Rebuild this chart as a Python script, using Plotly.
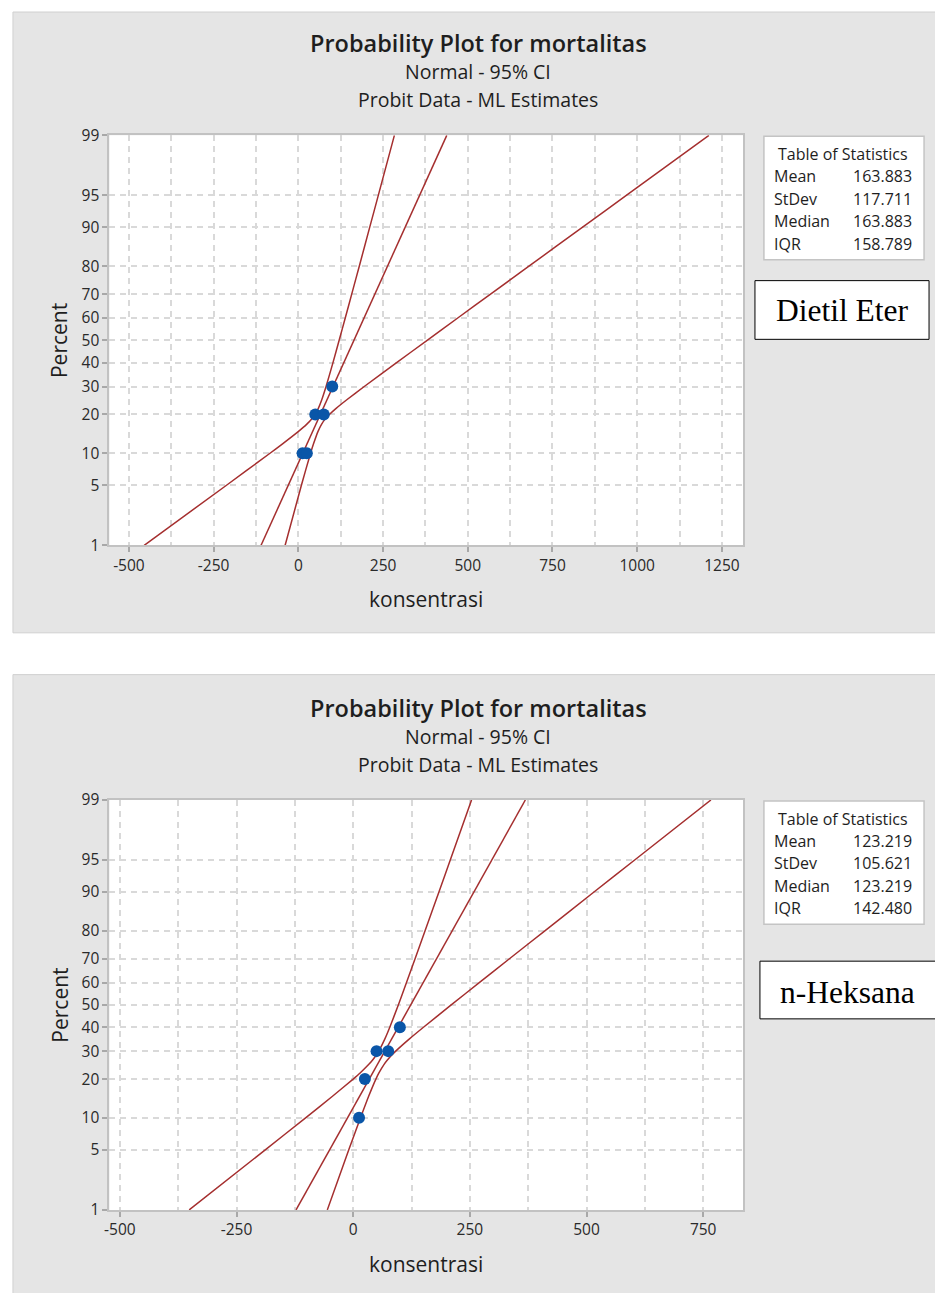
import plotly.graph_objects as go
from statistics import NormalDist

# ---------------- data ----------------
pct_ticks = [1, 5, 10, 20, 30, 40, 50, 60, 70, 80, 90, 95, 99]

# Dietil Eter panel
de_conc = [12.5, 25, 50, 75, 100]
de_mort = [10, 10, 20, 20, 30]
de_fit_pct = [1, 99]
de_fit_x = [-110, 438]
de_ci_pct = [1, 5, 10, 12, 15, 17, 18.7, 20, 22, 25, 30, 40, 50, 60, 70, 80, 90, 95, 99]
de_ci_left = [-455, -212, -83.6, -46.6, -0.4, 24.3, 40, 49.2, 59, 69.1, 81.8, 102.2, 120.4,
              138.4, 157.5, 179.8, 210.5, 235.9, 283.4]
de_ci_right = [-39, 9, 36, 44.8, 57.8, 68.4, 80, 91.6, 111.5, 143, 194.5, 290, 380.1,
               470.4, 567.2, 680.5, 837.9, 967.8, 1211.6]
de_xticks = [-500, -250, 0, 250, 500, 750, 1000, 1250]
de_stats_labels = ["Mean", "StDev", "Median", "IQR"]
de_stats_values = ["163.883", "117.711", "163.883", "158.789"]

# n-Heksana panel
nh_conc = [12.5, 25, 50, 75, 100]
nh_mort = [10, 20, 30, 30, 40]
nh_fit_pct = [1, 99]
nh_fit_x = [-122.5, 368.9]
nh_ci_pct = [1, 5, 10, 15, 20, 22, 25, 26.5, 28, 30, 35, 40, 50, 60, 70, 80, 90, 95, 99]
nh_ci_left = [-351.5, -188.5, -102.0, -44.4, -0.1, 14.8, 33.5, 41.2, 47.6, 54.7, 67.9, 78.4,
              96.7, 114.2, 132.6, 154.0, 183.7, 208.0, 253.6]
nh_ci_right = [-55.5, -9.5, 15.6, 33.1, 48.6, 55.1, 66.2, 72.8, 80.2, 91.1, 120.5, 150.6,
               210.0, 270.1, 334.8, 410.7, 516.0, 603.2, 766.6]
nh_xticks = [-500, -250, 0, 250, 500, 750]
nh_stats_labels = ["Mean", "StDev", "Median", "IQR"]
nh_stats_values = ["123.219", "105.621", "123.219", "142.480"]

de_xrange = [-557.5, 1312.3]
nh_xrange = [-522.4, 835.4]

# ---------------- helpers ----------------
nd = NormalDist()


def zq(p):
    return nd.inv_cdf(p / 100.0)


W, H = 935, 1293
# measured: picture_y ~= 0.988 * figure_y + 8, picture_x ~= figure_x
SY, OY = 0.988, 8.0


def px(x):
    return x / W


def py(y):
    return 1 - ((y - OY) / SY) / H


FONT = "Open Sans"
LINE_RED = "#a52f2f"
DOT_BLUE = "#0a56a8"
GRID = "#d9d9d9"
PANEL = "#e5e5e5"
TXT = "#1e1e1e"

fig = go.Figure()

panels = [
    dict(off=0, xa="x", ya="y", conc=de_conc, mort=de_mort, fit_pct=de_fit_pct, fit_x=de_fit_x,
         ci_pct=de_ci_pct, ci_l=de_ci_left, ci_r=de_ci_right, labels=de_stats_labels,
         values=de_stats_values, xrange=de_xrange, name="Dietil Eter",
         box=(754, 278, 929, 337), text_xy=(842, 308)),
    dict(off=668, xa="x2", ya="y2", conc=nh_conc, mort=nh_mort, fit_pct=nh_fit_pct, fit_x=nh_fit_x,
         ci_pct=nh_ci_pct, ci_l=nh_ci_left, ci_r=nh_ci_right, labels=nh_stats_labels,
         values=nh_stats_values, xrange=nh_xrange, name="n-Heksana",
         box=(759, 962, 945, 1020), text_xy=(847, 993)),
]

shapes = []
annotations = []

for i, p in enumerate(panels):
    off = p["off"]
    for ci in (p["ci_l"], p["ci_r"]):
        fig.add_trace(go.Scatter(x=ci, y=[zq(v) for v in p["ci_pct"]], mode="lines",
                                 line=dict(color=LINE_RED, width=1.5, shape="spline", smoothing=0.6),
                                 xaxis=p["xa"], yaxis=p["ya"], showlegend=False, hoverinfo="skip"))
    fig.add_trace(go.Scatter(x=p["fit_x"], y=[zq(v) for v in p["fit_pct"]], mode="lines",
                             line=dict(color=LINE_RED, width=1.5),
                             xaxis=p["xa"], yaxis=p["ya"], showlegend=False, hoverinfo="skip"))
    fig.add_trace(go.Scatter(x=p["conc"], y=[zq(v) for v in p["mort"]], mode="markers",
                             marker=dict(color=DOT_BLUE, size=12),
                             xaxis=p["xa"], yaxis=p["ya"], showlegend=False))

    top = 8 if i == 0 else 674
    bot = 632 if i == 0 else 1320
    shapes.append(dict(type="rect", xref="paper", yref="paper", x0=px(8), x1=px(950),
                       y0=py(bot), y1=py(top), fillcolor=PANEL,
                       line=dict(color="#d0d0d0", width=1), layer="below"))
    shapes.append(dict(type="rect", xref="paper", yref="paper", x0=px(105), x1=px(742),
                       y0=py(544 + off), y1=py(132 + off), fillcolor="white",
                       line=dict(width=0), layer="below"))
    shapes.append(dict(type="rect", xref="paper", yref="paper", x0=px(763), x1=px(924),
                       y0=py(257 + off), y1=py(133 + off), fillcolor="white",
                       line=dict(color="#c4c4c4", width=1.5), layer="below"))
    bx0, by0, bx1, by1 = p["box"]
    shapes.append(dict(type="rect", xref="paper", yref="paper", x0=px(bx0), x1=px(bx1),
                       y0=py(by1), y1=py(by0), fillcolor="white",
                       line=dict(color="black", width=1), layer="below"))

    for txt, yy, sz, wt in [("Probability Plot for mortalitas", 39.5, 23.5, 600),
                            ("Normal - 95% CI", 68, 19.5, 400),
                            ("Probit Data - ML Estimates", 96, 19.5, 400)]:
        annotations.append(dict(text=txt, x=px(476), y=py(yy + off), xref="paper", yref="paper",
                                showarrow=False, xanchor="center", yanchor="middle",
                                font=dict(family=FONT, size=sz, color=TXT, weight=wt)))
    annotations.append(dict(text="Percent", x=px(55), y=py(338 + off), xref="paper", yref="paper",
                            showarrow=False, textangle=-90, xanchor="center", yanchor="middle",
                            font=dict(family=FONT, size=21, color=TXT)))
    annotations.append(dict(text="konsentrasi", x=px(423), y=py(598 + off), xref="paper",
                            yref="paper", showarrow=False, xanchor="center", yanchor="middle",
                            font=dict(family=FONT, size=21, color=TXT)))
    annotations.append(dict(text="Table of Statistics", x=px(843), y=py(151 + off), xref="paper",
                            yref="paper", showarrow=False, xanchor="center", yanchor="middle",
                            font=dict(family=FONT, size=16, color=TXT)))
    for k, (lab, val) in enumerate(zip(p["labels"], p["values"])):
        yy = 173 + k * 22.6 + off
        annotations.append(dict(text=lab, x=px(771), y=py(yy), xref="paper", yref="paper",
                                showarrow=False, xanchor="left", yanchor="middle",
                                font=dict(family=FONT, size=16, color=TXT)))
        annotations.append(dict(text=val, x=px(914), y=py(yy), xref="paper", yref="paper",
                                showarrow=False, xanchor="right", yanchor="middle",
                                font=dict(family=FONT, size=16, color=TXT)))
    tx, ty = p["text_xy"]
    annotations.append(dict(text=p["name"], x=px(tx), y=py(ty), xref="paper", yref="paper",
                            showarrow=False, xanchor="center", yanchor="middle",
                            font=dict(family="Liberation Serif", size=31.5, color="black")))

yticks = [zq(v) for v in pct_ticks]
ytext = [str(v) for v in pct_ticks]

common_x = dict(showline=True, mirror=True, linecolor="#c2c2c2", linewidth=2,
                ticks="outside", ticklen=5, tickcolor="#a8a8a8", tickwidth=1.5,
                tickmode="array", showgrid=True, gridcolor=GRID, gridwidth=1.5,
                griddash="6px,5px", zeroline=False,
                minor=dict(dtick=125, tick0=0, showgrid=True, gridcolor=GRID, gridwidth=1.5,
                           griddash="6px,5px", ticks=""),
                tickfont=dict(family=FONT, size=15.5, color="#2a2a2a"), fixedrange=True)
common_y = dict(showline=True, mirror=True, linecolor="#c2c2c2", linewidth=2,
                ticks="outside", ticklen=5, tickcolor="#a8a8a8", tickwidth=1.5,
                tickmode="array", tickvals=yticks, ticktext=ytext,
                range=[zq(1), zq(99)], showgrid=True, gridcolor=GRID, gridwidth=1.5,
                griddash="6px,5px", zeroline=False,
                tickfont=dict(family=FONT, size=15.5, color="#2a2a2a"), fixedrange=True)

fig.update_layout(
    width=W, height=H, margin=dict(l=0, r=0, t=0, b=0),
    paper_bgcolor="white", plot_bgcolor="rgba(0,0,0,0)",
    xaxis=dict(domain=[px(105), px(742)], anchor="y", range=de_xrange,
               tickvals=de_xticks, ticktext=[str(v) for v in de_xticks], **common_x),
    yaxis=dict(domain=[py(544), py(132)], anchor="x", **common_y),
    xaxis2=dict(domain=[px(105), px(742)], anchor="y2", range=nh_xrange,
                tickvals=nh_xticks, ticktext=[str(v) for v in nh_xticks], **common_x),
    yaxis2=dict(domain=[py(1212), py(800)], anchor="x2", **common_y),
    shapes=shapes, annotations=annotations, showlegend=False,
)

fig.write_html("out.html")
